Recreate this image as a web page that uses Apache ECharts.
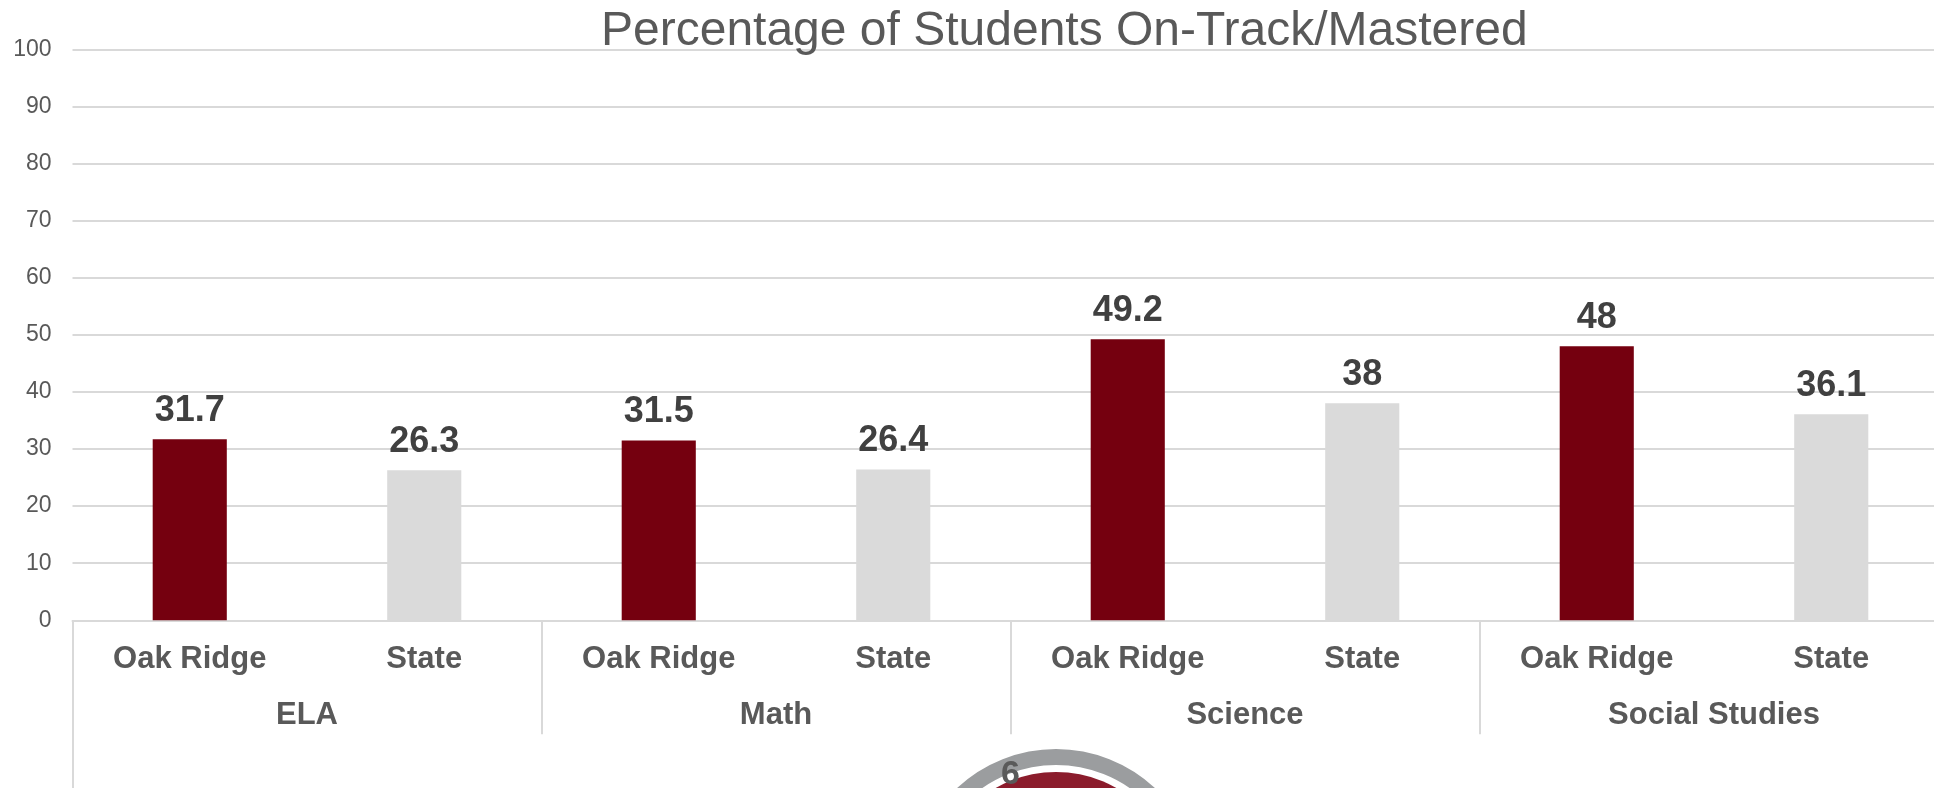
<!DOCTYPE html>
<html>
<head>
<meta charset="utf-8">
<script src="https://cdn.jsdelivr.net/npm/echarts@6/dist/echarts.min.js"></script>
<style>
html,body{margin:0;padding:0;background:#fff;}
#chart{width:1934px;height:788px;}
</style>
</head>
<body>
<div id="chart"></div>
<script>
// ---- data ----
const groups = ['ELA', 'Math', 'Science', 'Social Studies'];
const entities = ['Oak Ridge', 'State'];
const oakRidge = [31.7, 31.5, 49.2, 48];
const state = [26.3, 26.4, 38, 36.1];
const yMin = 0, yMax = 100, yStep = 10;
const titleText = 'Percentage of Students On-Track/Mastered';
const logoText = '6';

// ---- styles ----
const FONT = '"Liberation Sans", Arial, Helvetica, sans-serif';
const entityColors = ['#75000f', '#dadada'];
const gridColor = '#d9d9d9';
const textGray = '#595959';

const categories = [];
const barData = [];
groups.forEach((g, i) => {
  [oakRidge[i], state[i]].forEach((v, j) => {
    categories.push(entities[j]);
    barData.push({ value: v, itemStyle: { color: entityColors[j] } });
  });
});

const chart = echarts.init(document.getElementById('chart'), null, { renderer: 'canvas' });
const plotLeft = 72.5, plotTop = 49.3, plotWidth = 1876, plotHeight = 571;

chart.setOption({
  animation: false,
  backgroundColor: '#ffffff',
  title: {
    text: titleText,
    left: 601,
    top: 8,
    padding: 0,
    textStyle: { fontFamily: FONT, fontSize: 48, fontWeight: 'normal', color: textGray }
  },
  grid: {
    left: plotLeft, top: plotTop, width: plotWidth, height: plotHeight,
    containLabel: false, outerBoundsMode: 'none'
  },
  xAxis: [
    {
      type: 'category',
      data: categories,
      position: 'bottom',
      axisLine: { show: true, lineStyle: { color: gridColor, width: 2 } },
      axisTick: { show: false },
      axisLabel: {
        interval: 0, margin: 24,
        fontFamily: FONT, fontSize: 31, fontWeight: 'bold', color: textGray
      },
      splitLine: { show: false }
    },
    {
      type: 'category',
      data: groups,
      position: 'bottom',
      axisLine: { show: false },
      axisTick: { show: true, interval: 0, length: 114, lineStyle: { color: gridColor, width: 2 } },
      axisLabel: {
        interval: 0, margin: 80,
        fontFamily: FONT, fontSize: 31, fontWeight: 'bold', color: textGray
      },
      splitLine: { show: false }
    },
    {
      type: 'category',
      data: groups,
      position: 'bottom',
      axisLine: { show: false },
      axisTick: { show: true, interval: function (idx) { return idx === 0; }, length: 170, lineStyle: { color: gridColor, width: 2 } },
      axisLabel: { show: false },
      splitLine: { show: false }
    }
  ],
  yAxis: {
    type: 'value',
    min: yMin, max: yMax, interval: yStep,
    axisLine: { show: false },
    axisTick: { show: false },
    axisLabel: { margin: 21, fontFamily: FONT, fontSize: 23, color: textGray },
    splitLine: { show: true, lineStyle: { color: gridColor, width: 2 } }
  },
  series: [
    {
      type: 'bar',
      xAxisIndex: 0,
      data: barData,
      barWidth: '31.6%',
      label: {
        show: true, position: 'top', distance: 10,
        fontFamily: FONT, fontSize: 36, fontWeight: 'bold', color: '#404040'
      }
    }
  ],
  graphic: [
    {
      type: 'group',
      left: 911, top: 749,
      silent: true,
      children: [
        { type: 'circle', shape: { cx: 145, cy: 145, r: 137 }, style: { fill: 'none', stroke: '#9b9d9f', lineWidth: 16 } },
        { type: 'circle', shape: { cx: 145, cy: 145, r: 122 }, style: { fill: '#8b1c2c' } },
        { type: 'text', x: 90, y: 9, style: { text: logoText, font: 'bold 34px ' + FONT, fill: '#5a5a5a' } }
      ]
    }
  ]
});
</script>
</body>
</html>
